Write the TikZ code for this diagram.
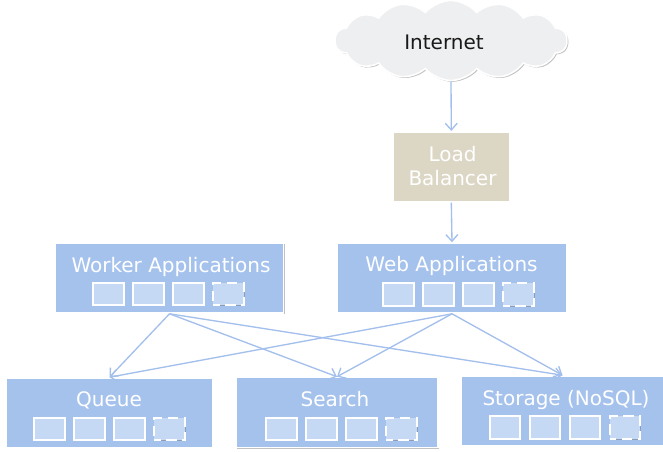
\documentclass[tikz,border=0pt]{standalone}
\usepackage{fontspec}
\setmainfont{DejaVu Sans}
\usetikzlibrary{shapes.symbols,shadows,arrows.meta}
\definecolor{panelblue}{HTML}{A5C2ED}
\definecolor{slotblue}{HTML}{C6D9F4}
\definecolor{wireblue}{HTML}{A3BFEC}
\definecolor{balancer}{HTML}{DCD6C5}
\definecolor{cloudgray}{HTML}{EEEFF1}
\begin{document}
\begin{tikzpicture}[x=0.75pt,y=-0.75pt,font=\fontsize{15}{18}\selectfont,
	>={Straight Barb[length=5pt,width=9pt]},
	soft/.style={drop shadow={shadow xshift=1pt,shadow yshift=-1pt,opacity=.35,fill=black!70}},
	panel/.style={soft,draw=white,line width=1.2pt,fill=panelblue,minimum height=52.5pt,inner sep=0pt},
	slot/.style={draw=white,line width=1.5pt,fill=slotblue,minimum width=23pt,minimum height=17pt,inner sep=0pt,
		drop shadow={shadow xshift=.6pt,shadow yshift=-.6pt,opacity=.3,fill=black!70}},
	spare/.style={slot,dash pattern=on 8pt off 4pt,dash phase=3pt},
	title/.style={anchor=base,text=white,inner sep=0pt},
	wire/.style={->,draw=wireblue,line width=1pt}]
	\useasboundingbox (0,0) rectangle (663,451);
	\node[cloud,cloud puffs=14,cloud puff arc=100,cloud ignores aspect,minimum width=174pt,minimum height=60pt,
		fill=cloudgray,draw=white,line width=1.2pt,soft] (internet) at (451,40.5) {};
	\node[anchor=base,inner sep=0pt,text=black!90] (internet-t) at (444,49) {Internet};
	\node[panel,fill=balancer,minimum width=87.75pt] (lb) at (451.3,166.7) {};
	\node[title] (lb-t1) at (452.5,161.7) {Load};
	\node[title] (lb-t2) at (452.5,185) {Balancer};
	\node[panel,minimum width=171pt] (worker) at (169.5,278) {};
	\node[panel,minimum width=172.5pt] (web) at (452,278) {};
	\node[panel,minimum width=155.25pt] (queue) at (109.5,413) {};
	\node[panel,minimum width=151.5pt] (search) at (337,412.5) {};
	\node[panel,minimum width=152pt] (storage) at (562.5,411) {};
	\foreach \g/\t/\x/\y in {worker/Worker Applications/171/272,web/Web Applications/451.5/271.7,
		queue/Queue/109/406.7,search/Search/335/406.7,storage/Storage (NoSQL)/566/405}{
		\node[title] (\g-t) at (\x,\y) {\t};
	}
	\foreach \g/\x/\y in {worker/108.5/294,web/398.5/294.5,queue/49.5/429,search/281.5/429,storage/505/427.5}{
		\foreach \i in {1,2,3}
			\node[slot] (\g-\i) at (\x+40*\i-40,\y) {};
		\node[spare] (\g-4) at (\x+120,\y) {};
	}
	\draw[wire] (internet.south) -- (lb.north);
	\draw[wire] (lb.south) -- (web.north);
	\foreach \s in {worker,web}
		\foreach \d in {queue,search,storage}
			\draw[wire] (\s.south) -- (\d.north);
\end{tikzpicture}
\end{document}
